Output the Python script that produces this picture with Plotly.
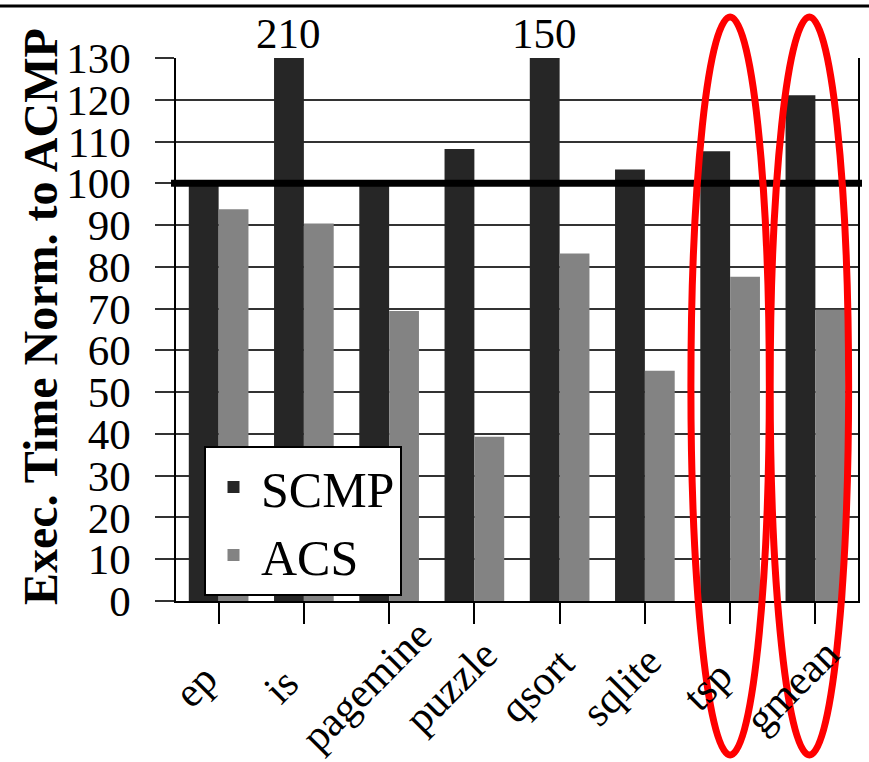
import plotly.graph_objects as go

# ---------------- data ----------------
categories = ["ep", "is", "pagemine", "puzzle", "qsort", "sqlite", "tsp", "gmean"]
scmp = [100, 210, 100, 108.2, 150, 103.3, 107.7, 121.1]
acs = [93.8, 90.4, 69.4, 39.3, 83.2, 55.1, 77.6, 69.7]
y_ticks = list(range(0, 131, 10))
baseline = 100
highlight = ["tsp", "gmean"]
y_max = 130

W, H = 869, 762
L, R, T, B = 176, 11, 58, 161
PW = W - L - R
PH = H - T - B

def px_x(p):
    return (p - L) / PW

def px_y(p):
    return (H - B - p) / PH

FONT = "Liberation Serif, Times New Roman, serif"
DARK = "#262626"
LIGHT = "#838383"

fig = go.Figure()
fig.add_trace(go.Bar(x=categories, y=scmp, name="SCMP", marker=dict(color=DARK, line=dict(width=0))))
fig.add_trace(go.Bar(x=categories, y=acs, name="ACS", marker=dict(color=LIGHT, line=dict(width=0))))

shapes = []
# thick baseline at 100
shapes.append(dict(type="line", xref="paper", yref="y", x0=px_x(171), x1=px_x(862),
                   y0=baseline, y1=baseline, line=dict(color="black", width=7), layer="above"))
# top border rule of the figure
shapes.append(dict(type="line", xref="paper", yref="paper", x0=px_x(0), x1=px_x(869),
                   y0=px_y(6), y1=px_y(6), line=dict(color="black", width=3)))
# red highlight ellipses
for cat, dx in zip(highlight, [0.0, -0.07]):
    i = categories.index(cat)
    shapes.append(dict(type="circle", xref="x", yref="paper",
                       x0=i + dx - 0.46, x1=i + dx + 0.46,
                       y0=px_y(755), y1=px_y(17),
                       line=dict(color="#ff0000", width=7), layer="above"))

annotations = []
# values out of range written above the clipped bars
for c, v in zip(categories, scmp):
    if v > y_max:
        annotations.append(dict(x=c, y=px_y(33), xref="x", yref="paper", text=str(int(round(v))),
                                showarrow=False, xshift=-15, xanchor="center", yanchor="middle",
                                font=dict(family=FONT, size=43, color="black")))
# rotated category labels
for c in categories:
    annotations.append(dict(x=c, y=px_y(686), xref="x", yref="paper", text=c, textangle=-45,
                            showarrow=False, xshift=-23, xanchor="center", yanchor="middle",
                            font=dict(family=FONT, size=42, color="black")))
# y-axis title
annotations.append(dict(x=px_x(40), y=px_y(317), xref="paper", yref="paper",
                        text="<b>Exec. Time Norm. to ACMP</b>", textangle=-90, showarrow=False,
                        xanchor="center", yanchor="middle",
                        font=dict(family=FONT, size=48, color="black")))

fig.update_layout(
    width=W, height=H, autosize=False,
    margin=dict(l=L, r=R, t=T, b=B, pad=0),
    paper_bgcolor="white", plot_bgcolor="white",
    barmode="group", bargap=0.3, bargroupgap=0,
    font=dict(family=FONT, color="black"),
    showlegend=True,
    legend=dict(x=px_x(204), y=px_y(446), xanchor="left", yanchor="top",
                bgcolor="white", bordercolor="black", borderwidth=2,
                font=dict(family=FONT, size=50, color="black"),
                tracegroupgap=0, itemwidth=45, entrywidth=208),
    shapes=shapes, annotations=annotations,
)
fig.update_xaxes(type="category", range=[-0.5, len(categories) - 0.5], automargin=False,
                 showticklabels=False, ticks="outside", ticklen=21,
                 tickwidth=1.5, tickcolor="black", showline=True, linecolor="black",
                 linewidth=1.5, showgrid=False, zeroline=False)
fig.update_yaxes(range=[0, y_max], tickvals=y_ticks, ticks="outside", ticklen=19, tickwidth=1.5,
                 automargin=False,
                 tickcolor="#333333", showline=True, mirror=True, linecolor="black", linewidth=1.5,
                 showgrid=True, gridcolor="#333333", gridwidth=1.5, zeroline=False,
                 tickfont=dict(family=FONT, size=43, color="black"), ticklabelstandoff=16)

fig.write_html("out.html")
